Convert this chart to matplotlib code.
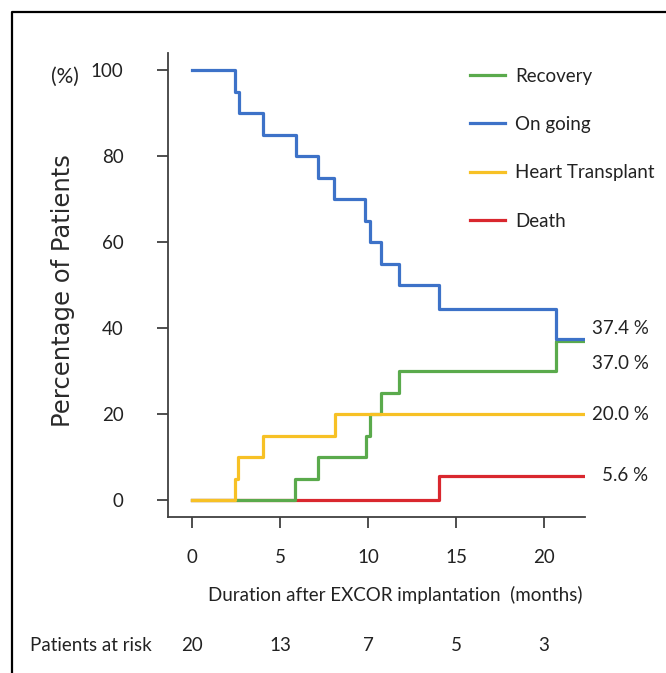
import matplotlib
matplotlib.use("Agg")
import matplotlib.pyplot as plt
from matplotlib.lines import Line2D
from matplotlib.transforms import blended_transform_factory

plt.rcParams['font.family'] = ['Lato', 'DejaVu Sans']

# =========================
# Data
# =========================
ongoing_t = [0, 2.44, 2.67, 4.03, 5.9, 7.14, 8.07, 9.83, 10.1, 10.74, 11.76, 14.03, 20.67, 22.2]
ongoing_v = [100, 95, 90, 85, 80, 75, 70, 65, 60, 55, 50, 44.4, 37.4, 37.4]

recovery_t = [0, 5.85, 7.14, 9.87, 10.1, 10.74, 11.76, 20.67, 22.2]
recovery_v = [0, 5, 10, 15, 20, 25, 30, 37.0, 37.0]

transplant_t = [0, 2.44, 2.6, 4.03, 8.1, 22.2]
transplant_v = [0, 5, 10, 15, 20, 20]

death_t = [0, 14.03, 22.2]
death_v = [0, 5.6, 5.6]

end_labels = ["37.4 %", "37.0 %", "20.0 %", "5.6 %"]

x_ticks = [0, 5, 10, 15, 20]
y_ticks = [0, 20, 40, 60, 80, 100]
at_risk = [20, 13, 7, 5, 3]

# =========================
# Colors
# =========================
c_green = "#5aaa4c"
c_blue = "#3d72c8"
c_yellow = "#f7c125"
c_red = "#d9272e"
c_text = "#222222"

fs = 13.5

# =========================
# Plot
# =========================
fig = plt.figure(figsize=(6.66, 6.73), dpi=100)
ax = fig.add_axes([0.2523, 0.2318, 0.6261, 0.6894])

lw = 2.3
ax.step(death_t, death_v, where="post", color=c_red, lw=lw, zorder=2)
ax.step(recovery_t, recovery_v, where="post", color=c_green, lw=lw, zorder=3)
ax.step(transplant_t, transplant_v, where="post", color=c_yellow, lw=lw, zorder=4)
ax.step(ongoing_t, ongoing_v, where="post", color=c_blue, lw=lw, zorder=5)

ax.set_xlim(-1.36, 22.33)
ax.set_ylim(-3.95, 103.95)
ax.set_xticks(x_ticks)
ax.set_yticks(y_ticks)

for s in ["top", "right"]:
    ax.spines[s].set_visible(False)
for s in ["left", "bottom"]:
    ax.spines[s].set_color("#404040")
    ax.spines[s].set_linewidth(1.3)

ax.tick_params(axis="both", colors="#404040", labelcolor=c_text,
               length=8, width=1.3, labelsize=fs)
ax.tick_params(axis="y", pad=24)
ax.tick_params(axis="x", pad=15)

# end-of-curve labels
label_y = [39.8, 31.7, 20.0, 5.6]
label_x = [22.75, 22.7, 22.7, 23.3]
for lx, ly, txt in zip(label_x, label_y, end_labels):
    ax.text(lx, ly, txt, fontsize=fs, va="center", ha="left",
            color=c_text, clip_on=False)

# legend
handles = [Line2D([], [], color=c, lw=lw) for c in [c_green, c_blue, c_yellow, c_red]]
names = ["Recovery", "On going", "Heart Transplant", "Death"]
fig.legend(handles, names, loc="upper left", bbox_to_anchor=(0.706, 0.8995),
           frameon=False, fontsize=fs, handlelength=1.85, handletextpad=0.55,
           labelspacing=1.67, borderpad=0, borderaxespad=0,
           labelcolor=c_text)

# axis labels
fig.text(0.095, 0.569, "Percentage of Patients", rotation=90, ha="center",
         va="center", fontsize=17.5, family="DejaVu Sans", color="#2a2a2a")
fig.text(0.097, 0.886, "(%)", ha="center", va="center", fontsize=15, color=c_text)
fig.text(0.593, 0.116, "Duration after EXCOR implantation  (months)",
         ha="center", va="center", fontsize=fs, color=c_text)

# patients at risk
trans = blended_transform_factory(ax.transData, fig.transFigure)
fig.text(0.137, 0.0416, "Patients at risk", ha="center", va="center",
         fontsize=fs, color=c_text)
for xt, n in zip(x_ticks, at_risk):
    ax.text(xt, 0.0416, str(n), transform=trans, ha="center", va="center",
            fontsize=fs, color=c_text, clip_on=False)

# frame lines (left and top)
fx = 12 / 666
fy = 1 - 12 / 673
fig.add_artist(Line2D([fx, fx, 1], [0, fy, fy], color="black", lw=1.6,
                      transform=fig.transFigure))

fig.savefig("out.png", dpi=100)
plt.close()
